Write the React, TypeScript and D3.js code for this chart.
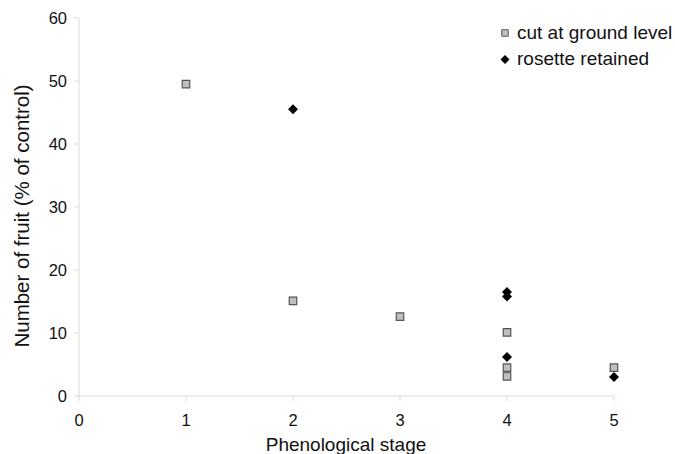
import React from "react";
import * as d3 from "d3";

const cutX = [1, 2, 3, 4, 4, 4, 5];
const cutY = [49.5, 15.1, 12.6, 10.1, 4.5, 3.1, 4.5];
const rosX = [2, 4, 4, 4, 5];
const rosY = [45.5, 16.5, 15.8, 6.2, 3.0];
const xTicks = [0, 1, 2, 3, 4, 5];
const yTicks = [0, 10, 20, 30, 40, 50, 60];

const W = 675, H = 454;
const font = "Liberation Sans, Arial, Helvetica, sans-serif";

function diamondPath(r: number) {
  const p = d3.path();
  p.moveTo(0, -r);
  p.lineTo(r, 0);
  p.lineTo(0, r);
  p.lineTo(-r, 0);
  p.closePath();
  return p.toString();
}

export default function App() {
  const x = d3.scaleLinear().domain([0, 5]).range([79, 614]);
  const y = d3.scaleLinear().domain([0, 60]).range([396, 18]);
  const sq = d3.symbol().type(d3.symbolSquare).size(56)();
  const dia = diamondPath(5);
  const axisColor = "#d9d9d9";
  return (
    <svg width={W} height={H} style={{ position: "absolute", left: 0, top: 0 }} fontFamily={font}>
      <rect width={W} height={H} fill="#fff" />
      <line x1={x(0)} x2={x(0)} y1={y(60)} y2={y(0)} stroke={axisColor} />
      <line x1={x(0)} x2={x(5)} y1={y(0)} y2={y(0)} stroke={axisColor} />
      {yTicks.map((t) => (
        <g key={"y" + t}>
          <line x1={x(0) - 5} x2={x(0)} y1={y(t)} y2={y(t)} stroke={axisColor} />
          <text x={67} y={y(t)} dy="0.36em" textAnchor="end" fontSize={16.5} fill="#111">{t}</text>
        </g>
      ))}
      {xTicks.map((t) => (
        <g key={"x" + t}>
          <line x1={x(t)} x2={x(t)} y1={y(0)} y2={y(0) + 5} stroke={axisColor} />
          <text x={x(t)} y={426} textAnchor="middle" fontSize={16.5} fill="#111">{t}</text>
        </g>
      ))}
      <text x={346} y={451} textAnchor="middle" fontSize={19} fill="#111">Phenological stage</text>
      <text transform={`translate(29,${216}) rotate(-90)`} textAnchor="middle" fontSize={20.5} fill="#111">Number of fruit (% of control)</text>
      {cutX.map((v, i) => (
        <path key={"c" + i} d={sq} transform={`translate(${x(v)},${y(cutY[i])})`} fill="#c0c0c0" stroke="#555" strokeWidth={1.2} />
      ))}
      {rosX.map((v, i) => (
        <path key={"r" + i} d={dia} transform={`translate(${x(v)},${y(rosY[i])})`} fill="#000" />
      ))}
      <path d={d3.symbol().type(d3.symbolSquare).size(42)()} transform="translate(505,33)" fill="#c0c0c0" stroke="#555" strokeWidth={1} />
      <text x={517} y={38.5} fontSize={19} fill="#111">cut at ground level</text>
      <path d={diamondPath(4.5)} transform="translate(505,59.5)" fill="#000" />
      <text x={517} y={65} fontSize={19} fill="#111">rosette retained</text>
    </svg>
  );
}
